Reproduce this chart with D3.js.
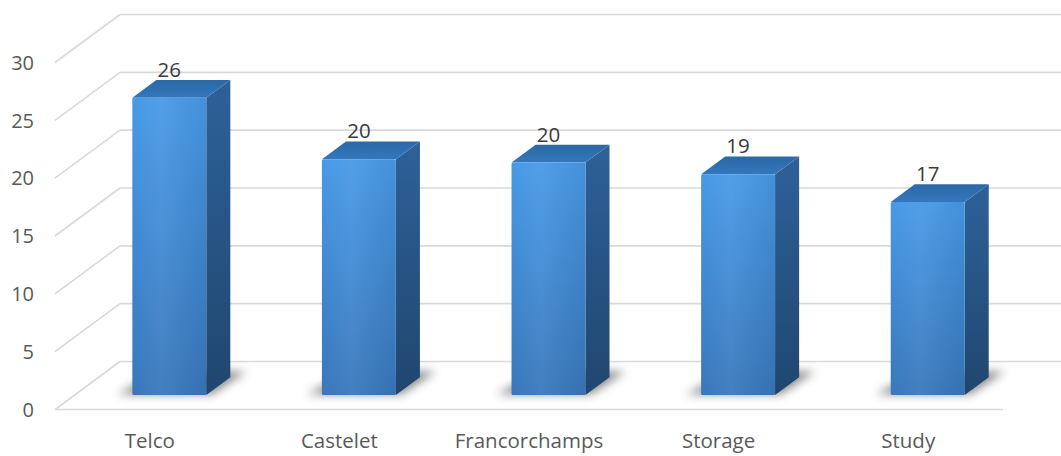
<!DOCTYPE html>
<html><head><meta charset="utf-8">
<script src="https://cdn.jsdelivr.net/npm/d3@7"></script>
<style>
html,body{margin:0;padding:0;background:#fff;}
svg{display:block;}
text{font-family:"Open Sans","Noto Sans",sans-serif;}
</style></head>
<body>
<svg id="c" width="1061" height="456"></svg>
<script>
const categories = ["Telco","Castelet","Francorchamps","Storage","Study"];
const values = [25.7, 20.4, 20.1, 19.1, 16.7];
const yTicks = [0,5,10,15,20,25,30];

const W = 1061, H = 456;
const svg = d3.select("#c");

// geometry of the oblique 3D frame
const frontLeft = 55, frontRight = 1003, frontY0 = 409.5;
const depthDX = 65, depthDY = -48;
const f1 = 0.30, f2 = 0.67;   // bar front / back depth fractions

const x = d3.scaleBand().domain(categories).range([frontLeft, frontRight]).paddingInner(0.61).paddingOuter(0.305);
const y = d3.scaleLinear().domain([0,30]).range([frontY0, frontY0 - 347]);
const P = (px, v, f) => [px + f*depthDX, y(v) + f*depthDY];

const defs = svg.append("defs");
const gFront = defs.append("linearGradient").attr("id","gFront").attr("x1",0).attr("y1",0).attr("x2",0).attr("y2",1);
gFront.append("stop").attr("offset","0%").attr("stop-color","#4799e6");
gFront.append("stop").attr("offset","100%").attr("stop-color","#3877bb");
const gSide = defs.append("linearGradient").attr("id","gSide").attr("x1",0).attr("y1",0).attr("x2",0).attr("y2",1);
gSide.append("stop").attr("offset","0%").attr("stop-color","#2e6199");
gSide.append("stop").attr("offset","100%").attr("stop-color","#20466e");
const gTop = defs.append("linearGradient").attr("id","gTop").attr("x1",0).attr("y1",1).attr("x2",0).attr("y2",0);
gTop.append("stop").attr("offset","0%").attr("stop-color","#3377bd");
gTop.append("stop").attr("offset","100%").attr("stop-color","#2b68a6");
const gHi = defs.append("linearGradient").attr("id","gHi").attr("x1",0).attr("y1",0).attr("x2",1).attr("y2",0);
gHi.append("stop").attr("offset","0%").attr("stop-color","#ffffff").attr("stop-opacity",0.0);
gHi.append("stop").attr("offset","40%").attr("stop-color","#ffffff").attr("stop-opacity",0.06);
gHi.append("stop").attr("offset","100%").attr("stop-color","#000000").attr("stop-opacity",0.05);
const blur = defs.append("filter").attr("id","blur").attr("x","-50%").attr("y","-50%").attr("width","200%").attr("height","200%");
blur.append("feGaussianBlur").attr("stdDeviation",5);

const grid = svg.append("g").attr("stroke","#d9d9d9").attr("stroke-width",1.6).attr("fill","none");
// back wall horizontal lines
yTicks.forEach(t => {
  const b = P(frontLeft, t, 1);
  grid.append("line").attr("x1",b[0]).attr("y1",b[1]).attr("x2",W).attr("y2",b[1]);
  const a = P(frontLeft, t, 0);
  grid.append("line").attr("x1",a[0]).attr("y1",a[1]).attr("x2",b[0]).attr("y2",b[1]);
});
// floor front edge
grid.append("line").attr("x1",frontLeft).attr("y1",y(0)).attr("x2",frontRight).attr("y2",y(0));

// y tick labels
svg.append("g").selectAll("text").data(yTicks).join("text")
  .attr("x",34).attr("y",d=>y(d)).attr("dy","0.36em").attr("text-anchor","end")
  .attr("font-size",20).attr("fill","#595959").text(d=>d);

// category labels
svg.append("g").selectAll("text").data(categories).join("text")
  .attr("x",d=>x(d)+x.bandwidth()/2).attr("y",448).attr("text-anchor","middle")
  .attr("font-size",20.5).attr("fill","#595959").text(d=>d);

const line = d3.line();
const bars = svg.append("g");
categories.forEach((c,i) => {
  const v = values[i];
  const x0 = x(c), x1 = x(c)+x.bandwidth();
  const g = bars.append("g");
  // shadow on floor
  const s0 = P(x0-16, 0, f1+0.02), s1 = P(x1+4, 0, f1+0.02), s2 = P(x1+8, 0, f2+0.12), s3 = P(x0-4, 0, f2+0.12);
  g.append("path").attr("d", line([s0,s1,s2,s3])+"Z").attr("fill","#6a6a6a").attr("opacity",0.8).attr("filter","url(#blur)");
  const fbl = P(x0,0,f1), fbr = P(x1,0,f1), ftl = P(x0,v,f1), ftr = P(x1,v,f1);
  const bbr = P(x1,0,f2), btr = P(x1,v,f2), btl = P(x0,v,f2);
  // side
  g.append("path").attr("d", line([fbr,bbr,btr,ftr])+"Z").attr("fill","url(#gSide)");
  // top
  g.append("path").attr("d", line([ftl,ftr,btr,btl])+"Z").attr("fill","url(#gTop)");
  // front
  g.append("rect").attr("x",ftl[0]).attr("y",ftl[1]).attr("width",x1-x0).attr("height",fbl[1]-ftl[1]).attr("fill","url(#gFront)").attr("rx",1.5);
  g.append("rect").attr("x",ftl[0]).attr("y",ftl[1]).attr("width",x1-x0).attr("height",fbl[1]-ftl[1]).attr("fill","url(#gHi)");
  // data label
  g.append("text").attr("x",(ftl[0]+ftr[0])/2).attr("y",btl[1]-3).attr("text-anchor","middle")
    .attr("font-size",20.5).attr("fill","#3a3a3a").text(d3.format(".0f")(v));
});
</script>
</body></html>
